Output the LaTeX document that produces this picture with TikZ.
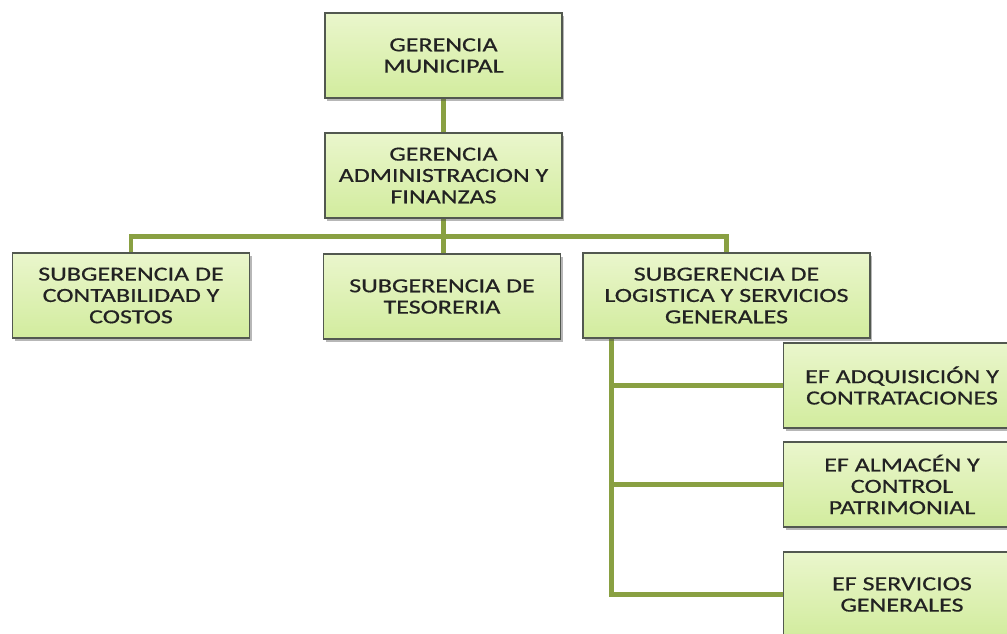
\documentclass[tikz,border=0pt]{standalone}
\usepackage{fontspec}
\setmainfont{Carlito}[FakeStretch=1.3,FakeBold=0.6]
\usetikzlibrary{shadows,calc,backgrounds}
\definecolor{verdeclaro}{RGB}{234,246,204}
\definecolor{verdeoscuro}{RGB}{210,236,158}
\definecolor{borde}{RGB}{82,88,80}
\definecolor{rama}{RGB}{137,160,66}
\definecolor{texto}{RGB}{34,34,34}

\begin{document}
\begin{tikzpicture}[x=0.75pt,y=-0.75pt,
	cargo/.style={draw=borde, line width=0.9pt, top color=verdeclaro, bottom color=verdeoscuro,
		drop shadow={shadow xshift=1.5pt, shadow yshift=-2.2pt, opacity=0.4, fill=black!70},
		minimum width=177.75pt, minimum height=63.75pt, align=center, text=texto,
		font=\fontsize{15}{16}\selectfont},
	cargoancho/.style={cargo, minimum width=215.25pt},
	rama/.style={draw=rama, line width=3.6pt}]
\useasboundingbox (0,0) rectangle (1007,633);
\clip (0,0) rectangle (1007,633);

\node[cargo](gm) at (443.5,55.5){GERENCIA\\MUNICIPAL};
\node[cargo](gaf) at (443.5,175.5){GERENCIA\\ADMINISTRACION Y\\FINANZAS};
\node[cargo](scc) at (131,295.5){SUBGERENCIA DE\\CONTABILIDAD Y\\COSTOS};
\node[cargo](st) at (442,296.5){SUBGERENCIA DE\\TESORERIA};
\node[cargoancho](slsg) at (726.5,295.5){SUBGERENCIA DE\\LOGISTICA Y SERVICIOS\\GENERALES};
\node[cargo](efac) at (902,385.5){EF ADQUISICIÓN Y\\CONTRATACIONES};
\node[cargo](efacp) at (902,484.5){EF ALMACÉN Y\\CONTROL\\PATRIMONIAL};
\node[cargo](efsg) at (902,594.5){EF SERVICIOS\\GENERALES};

\begin{scope}[on background layer]
\coordinate (barra) at ($(gaf.south)+(0,18)$);
\draw[rama](gm)--(gaf)
	(gaf.south)--(gaf.south|-st.north)
	(scc.north)|-(barra)-|(slsg.north)
	(slsg.south west)++(29,0)coordinate(tronco)--(tronco|-efsg.west)--(efsg.west)
	(tronco|-efac.west)--(efac.west)
	(tronco|-efacp.west)--(efacp.west);
\end{scope}
\end{tikzpicture}
\end{document}
